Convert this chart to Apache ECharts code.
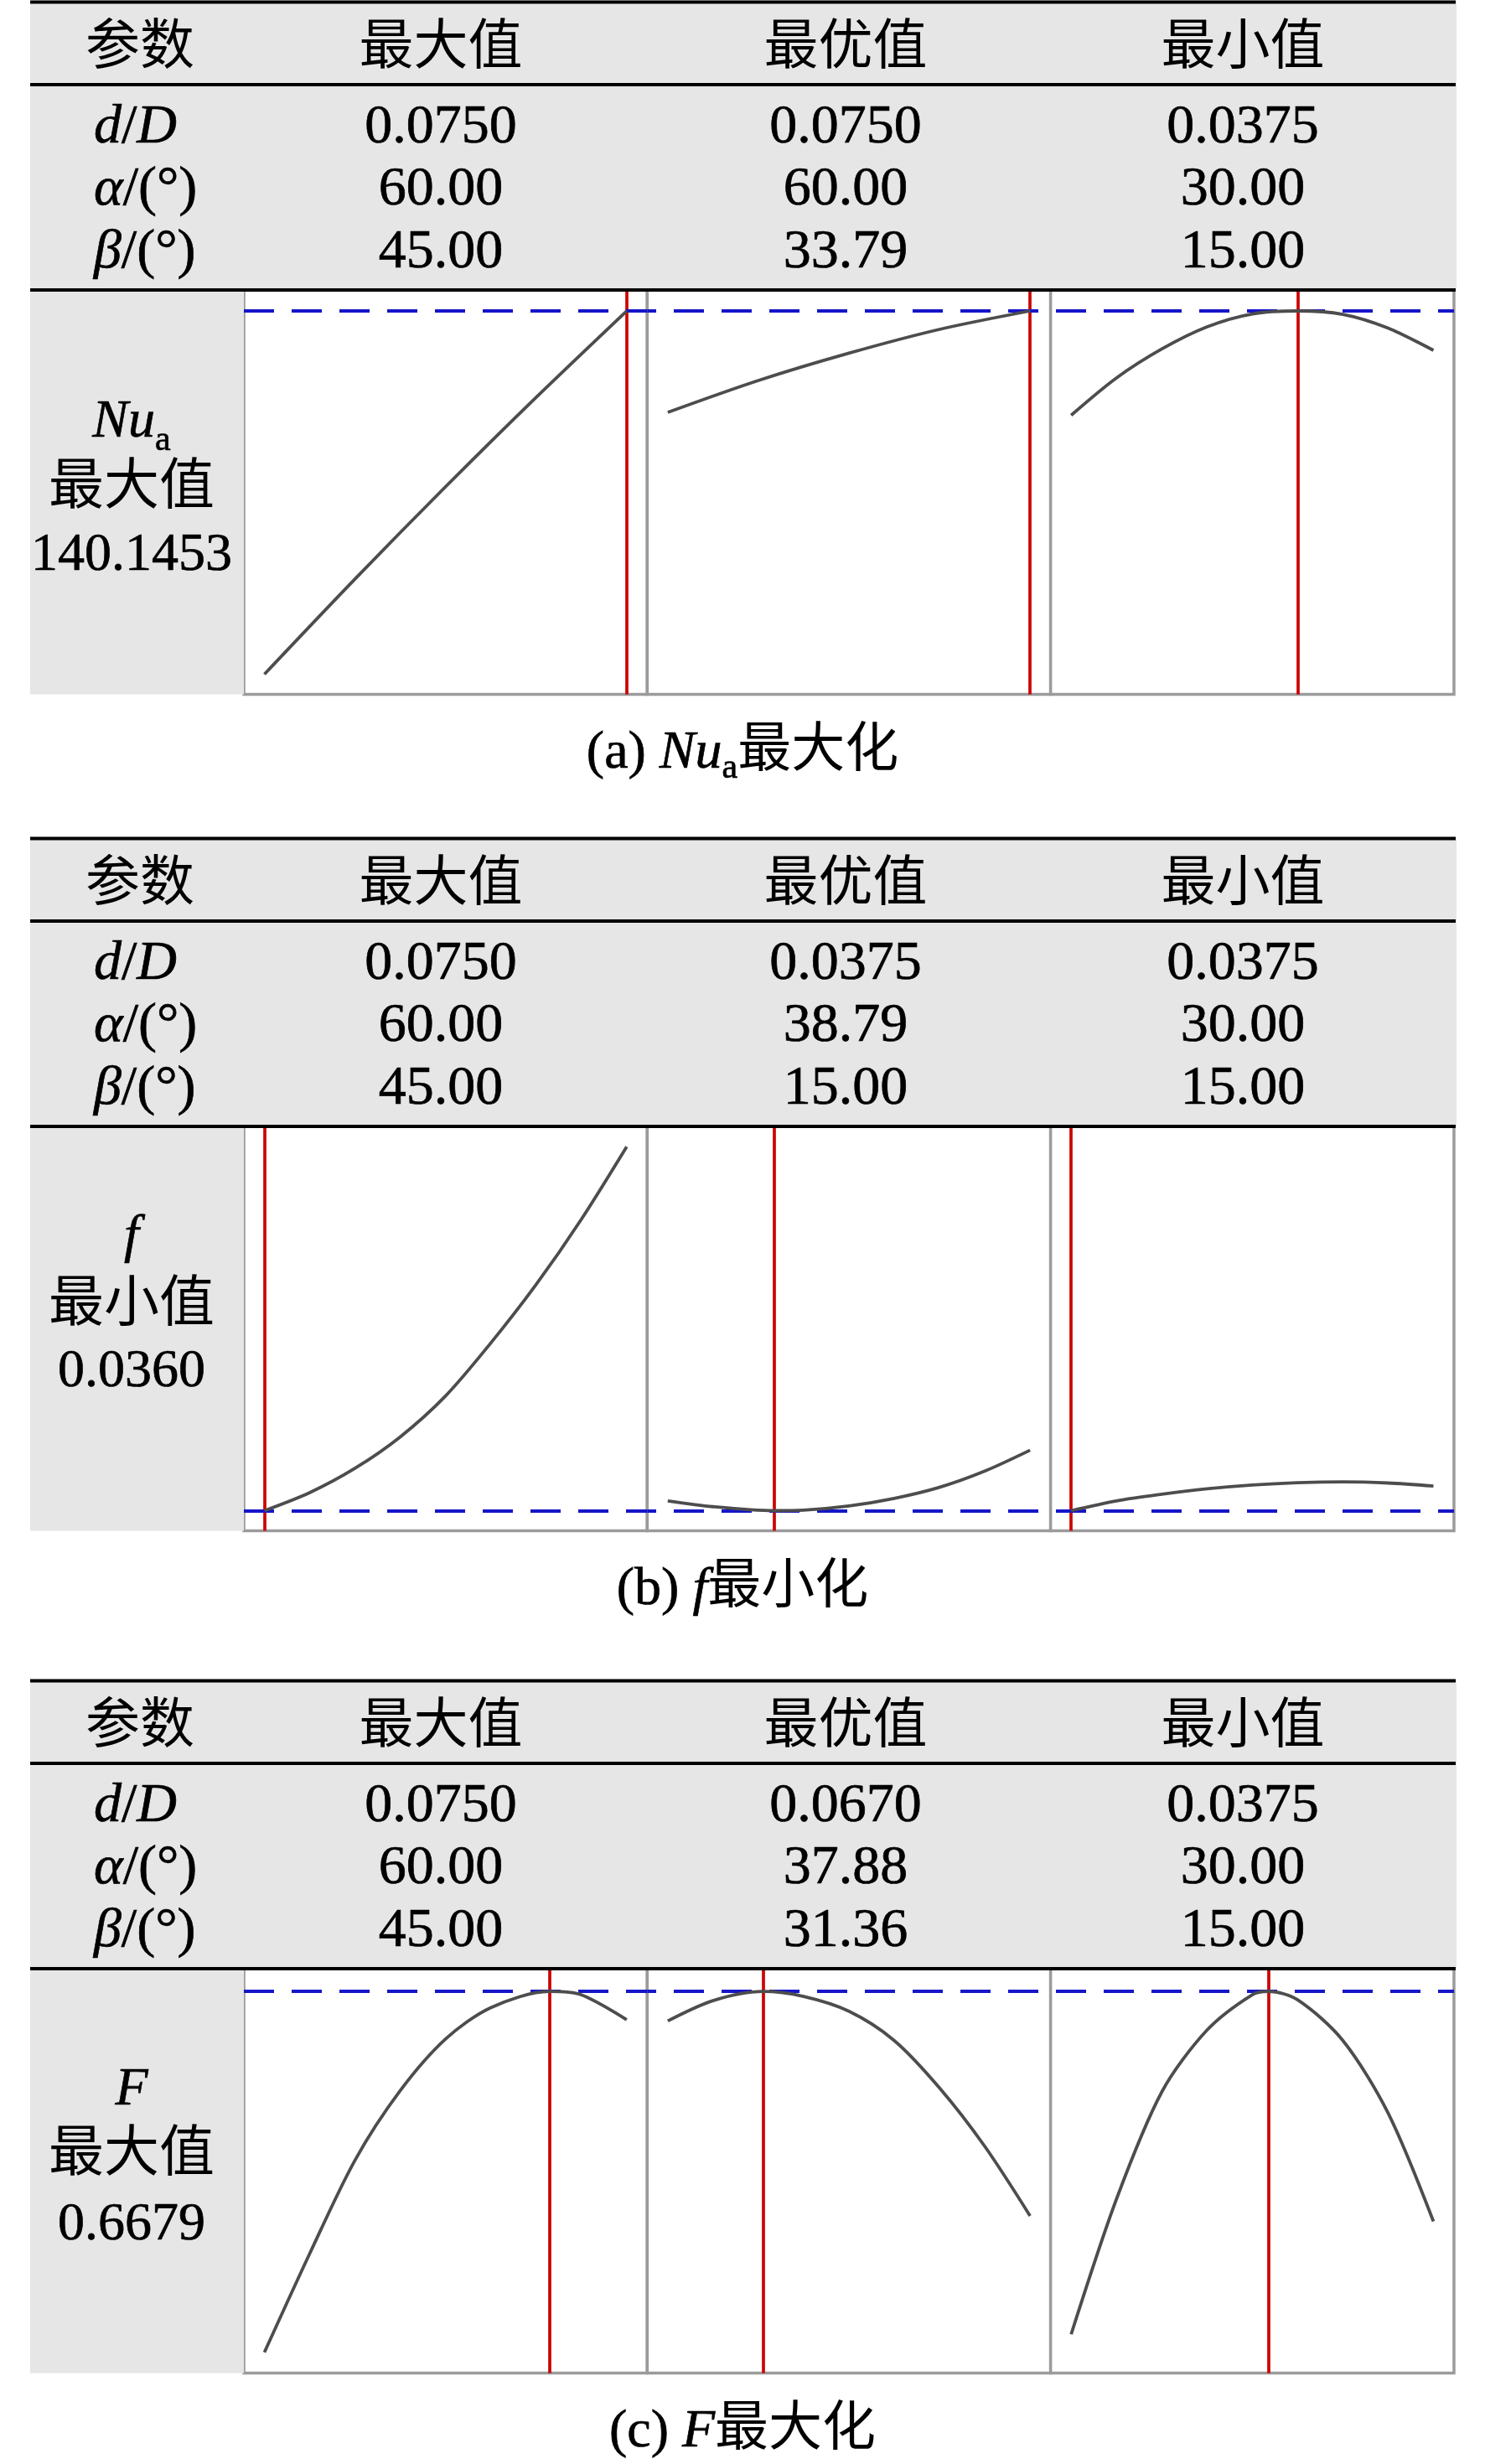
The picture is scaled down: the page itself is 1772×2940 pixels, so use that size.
<!DOCTYPE html>
<html><head><meta charset="utf-8">
<script src="https://cdn.jsdelivr.net/npm/echarts@6/dist/echarts.min.js"></script>
<style>html,body{margin:0;padding:0;background:#fff}#c{width:1772px;height:2940px}</style>
</head><body><div id="c"></div>
<script>
// ---------------- data ----------------
const headers = ['参数', '最大值', '最优值', '最小值'];
const tableMax = ['0.0750', '60.00', '45.00'];
const tableMin = ['0.0375', '30.00', '15.00'];
const tableOpt = [['0.0750', '60.00', '33.79'], ['0.0375', '38.79', '15.00'], ['0.0670', '37.88', '31.36']];
const respSymbol = ['Nu', 'f', 'F'];
const respSub = ['a', '', ''];
const respGoal = ['最大值', '最小值', '最大值'];
const respValue = ['140.1453', '0.0360', '0.6679'];
const captionTag = ['(a) ', '(b) ', '(c) '];
const captionTail = ['最大化', '最小化', '最大化'];

const factorRange = [[0.0375, 0.075], [30, 60], [15, 45]];
const optFactor = [[0.075, 60, 33.79], [0.0375, 38.79, 15], [0.067, 37.88, 31.36]];
const optResp = [140.1453, 0.0360, 0.6679];
const respAxisMin = [97.78, 0.034785, 0.38461];
const respAxisMax = [142.46, 0.059214, 0.68482];

// (a) Nu_a
const a_dD_x = [0.0375, 0.046875, 0.05625, 0.065625, 0.075];
const a_dD_y = [100.00, 110.52, 120.72, 130.60, 140.1453];
const a_al_x = [30, 37.5, 45, 52.5, 60];
const a_al_y = [128.94, 132.46, 135.48, 138.11, 140.1453];
const a_be_x = [15, 18.75, 22.5, 26.25, 30, 33.79, 37.5, 41.25, 45];
const a_be_y = [128.62, 132.74, 135.94, 138.39, 139.82, 140.1453, 139.77, 138.25, 135.79];
// (b) f
const b_dD_x = [0.0375, 0.0421875, 0.046875, 0.0515625, 0.05625, 0.0609375, 0.065625, 0.0703125, 0.075];
const b_dD_y = [0.03600, 0.03709, 0.03856, 0.04046, 0.04293, 0.04613, 0.04966, 0.05361, 0.05799];
const b_al_x = [30, 33.75, 38.79, 41.25, 45, 48.75, 52.5, 56.25, 60];
const b_al_y = [0.03659, 0.03624, 0.03600, 0.03603, 0.03628, 0.03674, 0.03741, 0.03839, 0.03965];
const b_be_x = [15, 18.75, 22.5, 26.25, 30, 33.75, 37.5, 41.25, 45];
const b_be_y = [0.03600, 0.03659, 0.03699, 0.03732, 0.03755, 0.03769, 0.03774, 0.03767, 0.03749];
// (c) F
const c_dD_x = [0.0375, 0.0421875, 0.046875, 0.0515625, 0.05625, 0.0609375, 0.0670, 0.0703125, 0.075];
const c_dD_y = [0.4000, 0.4733, 0.5426, 0.5943, 0.6326, 0.6559, 0.6679, 0.6654, 0.6470];
const c_al_x = [30, 33.75, 37.88, 41.25, 45, 48.75, 52.5, 56.25, 60];
const c_al_y = [0.6460, 0.6611, 0.6679, 0.6642, 0.6532, 0.6315, 0.5963, 0.5529, 0.5013];
const c_be_x = [15, 18.75, 22.5, 26.25, 30, 31.36, 33.75, 37.5, 41.25, 45];
const c_be_y = [0.4134, 0.5137, 0.5932, 0.6392, 0.6655, 0.6679, 0.6617, 0.6315, 0.5776, 0.4972];

const curves = [
  [[a_dD_x, a_dD_y], [a_al_x, a_al_y], [a_be_x, a_be_y]],
  [[b_dD_x, b_dD_y], [b_al_x, b_al_y], [b_be_x, b_be_y]],
  [[c_dD_x, c_dD_y], [c_al_x, c_al_y], [c_be_x, c_be_y]]
];

// ---------------- layout ----------------
const LAT = '"Liberation Serif", "DejaVu Serif", serif';
const CJK = '"Noto Sans CJK SC", sans-serif';
const L = {
  secOff: [0, 998, 2003],
  tableL: 36, tableR: 1737,
  topLine: 2.5, headLine: 101, rowLine: 346, plotH: 482.5,
  panelL: 291, panelW: 481.33,
  headY: 51, rowY: [149, 223.5, 298],
  colX: [167, 526, 1009, 1483], labelX: 112,
  leftX: 157,
  leftY: [[500.5, 576, 659.5], [474.5, 553, 636], [488, 562, 649]],
  subY: 522.3,
  capX: 886, capY: 895.5, capCjkY: 890, capSubY: 913.8,
  latinShift: 3.5,
  xPad: 0.0567
};

function isCjk(t) { return /[\u4e00-\u9fff]/.test(t); }
function fam(t) { return isCjk(t) ? CJK : LAT; }
const mctx = document.createElement('canvas').getContext('2d');
function tw(t, size, st) { mctx.font = (st || 'normal') + ' ' + size + 'px ' + fam(t); return mctx.measureText(t).width; }
function txt(t, x, y, size, st, align) {
  const latin = !isCjk(t);
  return { type: 'text', x: x, y: latin ? y + L.latinShift : y, z: 100, silent: true,
    style: { text: t, fontSize: size, fontFamily: fam(t), fontStyle: st || 'normal', fill: '#000',
      stroke: latin ? '#000' : null, lineWidth: latin ? 0.7 : 0,
      align: align || 'left', textAlign: align || 'left', verticalAlign: 'middle', textVerticalAlign: 'middle' } };
}
function run(pieces, x, anchor, out) {
  const ws = pieces.map(p => tw(p.t, p.size, p.st));
  const total = ws.reduce((a, b) => a + b, 0);
  let cx = anchor === 'center' ? x - total / 2 : x;
  pieces.forEach((p, i) => { out.push(txt(p.t, cx, p.y, p.size, p.st, 'left')); cx += ws[i]; });
}

const els = [];
const grids = [], xAxes = [], yAxes = [], series = [];

for (let s = 0; s < 3; s++) {
  const o = L.secOff[s];
  els.push({ type: 'rect', z: 1, silent: true, shape: { x: L.tableL, y: o + 0.5, width: 1702, height: L.rowLine - 0.5 }, style: { fill: '#e6e6e6' } });
  els.push({ type: 'rect', z: 1, silent: true, shape: { x: L.tableL, y: o + L.rowLine, width: L.panelL - L.tableL, height: L.plotH }, style: { fill: '#e6e6e6' } });
  [L.topLine, L.headLine, L.rowLine].forEach(y => {
    els.push({ type: 'line', z: 90, silent: true, shape: { x1: L.tableL, y1: o + y, x2: L.tableR, y2: o + y }, style: { stroke: '#000', lineWidth: 4 } });
  });
  headers.forEach((h, i) => els.push(txt(h, L.colX[i], o + L.headY, 65, 'normal', 'center')));
  const ry = L.rowY.map(v => v + o);
  run([{ t: 'd', size: 66, st: 'italic', y: ry[0] }, { t: '/', size: 66, y: ry[0] }, { t: 'D', size: 66, st: 'italic', y: ry[0] }], L.labelX, 'left', els);
  run([{ t: 'α', size: 66, st: 'italic', y: ry[1] }, { t: '/(°)', size: 66, y: ry[1] }], L.labelX, 'left', els);
  run([{ t: 'β', size: 66, st: 'italic', y: ry[2] }, { t: '/(°)', size: 66, y: ry[2] }], L.labelX, 'left', els);
  for (let r = 0; r < 3; r++) {
    els.push(txt(tableMax[r], L.colX[1], ry[r], 66, 'normal', 'center'));
    els.push(txt(tableOpt[s][r], L.colX[2], ry[r], 66, 'normal', 'center'));
    els.push(txt(tableMin[r], L.colX[3], ry[r], 66, 'normal', 'center'));
  }
  const ly = L.leftY[s].map(v => v + o);
  const symPieces = [{ t: respSymbol[s], size: 64, st: 'italic', y: ly[0] }];
  if (respSub[s]) symPieces.push({ t: respSub[s], size: 42, y: L.subY + o });
  run(symPieces, L.leftX, 'center', els);
  els.push(txt(respGoal[s], L.leftX, ly[1], 66, 'normal', 'center'));
  els.push(txt(respValue[s], L.leftX, ly[2], 64, 'normal', 'center'));
  const cap = [{ t: captionTag[s], size: 64, y: L.capY + o }, { t: respSymbol[s], size: 64, st: 'italic', y: L.capY + o }];
  if (respSub[s]) cap.push({ t: respSub[s], size: 42, y: L.capSubY + o });
  cap.push({ t: captionTail[s], size: 64, y: L.capCjkY + o });
  run(cap, L.capX, 'center', els);

  for (let j = 0; j < 3; j++) {
    const g = s * 3 + j;
    const lo = factorRange[j][0], hi = factorRange[j][1], span = hi - lo;
    grids.push({ left: L.panelL + j * L.panelW, top: o + L.rowLine, width: L.panelW, height: L.plotH,
      show: true, backgroundColor: '#fff', borderColor: '#9b9b9b', borderWidth: 3.5, containLabel: false });
    xAxes.push({ gridIndex: g, type: 'value', min: lo - L.xPad * span, max: hi + L.xPad * span, show: false });
    yAxes.push({ gridIndex: g, type: 'value', min: respAxisMin[s], max: respAxisMax[s], show: false });
    const xs = curves[s][j][0], ys = curves[s][j][1];
    series.push({
      type: 'line', xAxisIndex: g, yAxisIndex: g, z: 5,
      data: xs.map((v, i) => [v, ys[i]]),
      smooth: 0.3, symbol: 'none', showSymbol: false,
      lineStyle: { color: '#4d4d4d', width: 3.8 },
      markLine: {
        silent: true, symbol: ['none', 'none'], label: { show: false }, animation: false,
        precision: 8,
        emphasis: { disabled: true },
        data: [
          { xAxis: optFactor[s][j], lineStyle: { color: '#cc0000', width: 3.7, type: 'solid' } },
          { yAxis: optResp[s], lineStyle: { color: '#1515c8', width: 4.2, type: [36, 21], dashOffset: (j * L.panelW) % 57 } }
        ]
      }
    });
  }
}

const chart = echarts.init(document.getElementById('c'), null, { renderer: 'canvas', width: 1772, height: 2940 });
chart.setOption({
  animation: false,
  backgroundColor: '#fff',
  grid: grids, xAxis: xAxes, yAxis: yAxes, series: series,
  graphic: { elements: els }
});
</script></body></html>
